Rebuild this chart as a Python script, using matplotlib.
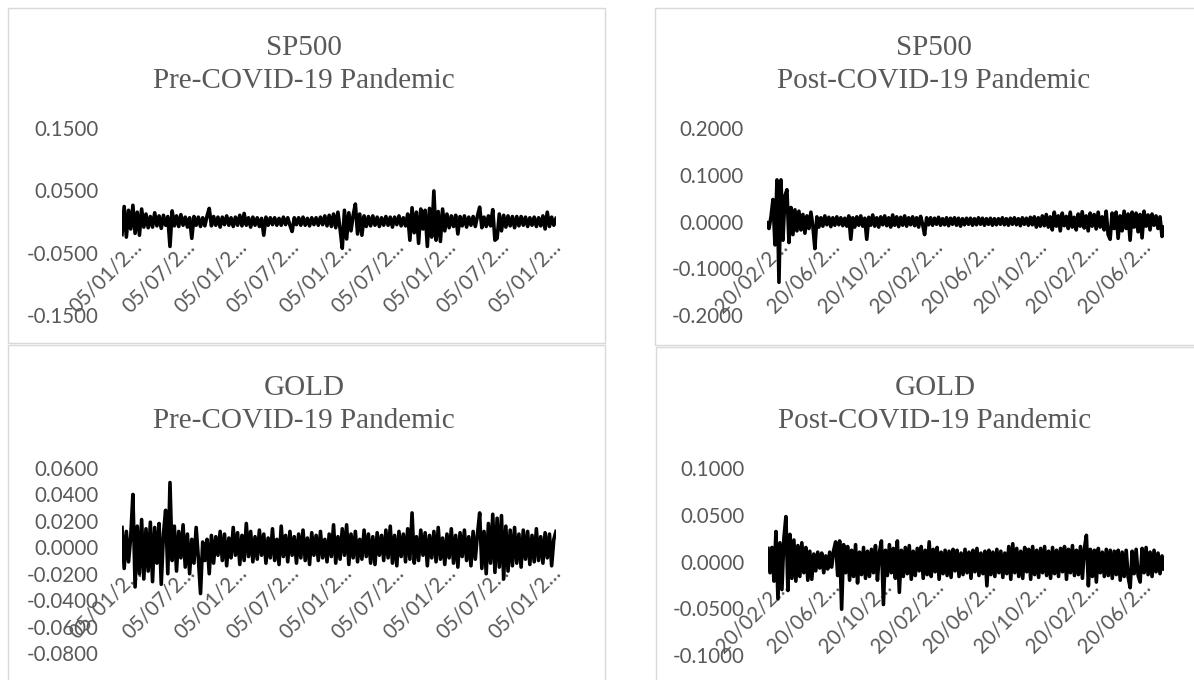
import matplotlib
matplotlib.use("Agg")
import matplotlib.pyplot as plt
import matplotlib.transforms as mtransforms
from matplotlib.patches import Rectangle

plt.rcParams["font.family"] = ["Lato", "DejaVu Sans"]

# ---------------- data ----------------
sp500_pre = [
    -0.021, 0.024, -0.025, 0.018, -0.012, 0.026, -0.019, 0.015, -0.022, 0.020,
    -0.009, 0.012, -0.010, 0.008, -0.009, 0.014, -0.007, 0.009, -0.011, 0.010,
    -0.006, 0.008, -0.040, 0.017, -0.007, 0.009, -0.008, 0.011, -0.006, 0.007,
    -0.009, 0.006, -0.027, 0.008, -0.006, 0.007, -0.008, 0.006, -0.007, 0.009,
    0.021, -0.007, 0.008, -0.006, 0.007, -0.009, 0.007, -0.005, 0.009, -0.006,
    0.006, -0.008, 0.007, -0.006, 0.010, -0.007, 0.013, -0.006, 0.006, -0.009,
    0.007, -0.006, 0.006, -0.008, 0.005, -0.022, 0.007, -0.006, 0.006, -0.005,
    0.006, -0.006, 0.005, -0.006, 0.007, -0.005, 0.006, -0.006, -0.016, 0.006,
    -0.005, 0.006, -0.006, 0.007, -0.006, 0.005, -0.007, 0.006, -0.005, 0.006,
    -0.006, 0.007, -0.005, 0.009, -0.007, 0.010, -0.008, 0.012, -0.010, 0.015,
    -0.012, -0.043, 0.018, -0.028, 0.014, -0.015, 0.010, 0.028, -0.020, 0.012,
    -0.022, 0.009, -0.008, 0.008, -0.007, 0.009, -0.006, 0.007, -0.008, 0.006,
    -0.006, 0.008, -0.006, 0.007, -0.009, 0.007, -0.005, 0.009, -0.007, 0.006,
    -0.007, 0.012, -0.030, 0.022, -0.018, 0.015, -0.035, 0.020, -0.012, 0.018,
    -0.040, 0.021, -0.025, 0.049, -0.030, 0.016, -0.032, 0.020, -0.015, 0.012,
    -0.010, 0.009, -0.008, 0.010, -0.020, 0.008, -0.007, 0.009, -0.009, 0.007,
    -0.006, 0.008, -0.008, 0.009, 0.023, -0.010, 0.007, -0.008, 0.009, -0.007,
    0.019, -0.030, -0.027, 0.012, -0.015, 0.010, -0.009, 0.009, -0.007, 0.008,
    -0.010, 0.008, -0.007, 0.008, -0.006, 0.007, -0.008, 0.006, -0.006, 0.007,
    -0.008, 0.006, -0.007, 0.009, -0.012, 0.015, -0.008, 0.007, -0.006, 0.005,
]

sp500_post = [
    -0.003, -0.015, 0.010, 0.047, -0.050, 0.089, -0.130, 0.089, -0.040, 0.055,
    0.068, -0.045, 0.030, -0.028, 0.025, -0.020, 0.022, -0.018, 0.015, -0.025,
    0.012, -0.015, 0.020, -0.010, -0.058, 0.010, -0.012, 0.008, -0.010, 0.012,
    -0.007, 0.009, -0.011, 0.008, -0.008, 0.010, -0.007, 0.008, -0.009, 0.007,
    -0.010, 0.012, -0.038, 0.008, -0.012, 0.010, -0.008, 0.012, -0.010, 0.007,
    -0.038, 0.009, -0.008, 0.014, -0.010, 0.008, -0.012, 0.010, -0.007, 0.012,
    -0.009, 0.008, -0.012, 0.014, -0.008, 0.010, -0.011, 0.009, -0.008, 0.012,
    -0.010, 0.008, -0.007, 0.010, -0.009, 0.008, -0.012, 0.011, -0.006, -0.028,
    0.008, -0.007, 0.008, -0.008, 0.007, -0.006, 0.009, -0.008, 0.006, -0.007,
    0.008, -0.009, 0.007, -0.006, 0.008, -0.008, 0.007, -0.010, 0.006, -0.007,
    0.007, -0.006, 0.007, -0.008, 0.006, -0.007, 0.008, -0.006, 0.007, -0.008,
    0.006, -0.006, 0.007, -0.008, 0.006, -0.007, 0.006, -0.006, 0.008, -0.007,
    0.006, -0.008, 0.007, -0.006, 0.008, -0.007, 0.006, -0.009, 0.008, -0.006,
    0.007, -0.008, 0.009, -0.007, 0.010, -0.012, 0.008, -0.010, 0.012, -0.009,
    0.015, -0.012, 0.010, -0.018, 0.020, -0.010, 0.012, -0.020, 0.018, -0.009,
    0.011, -0.015, 0.020, -0.012, 0.009, -0.018, 0.016, -0.010, 0.021, -0.014,
    0.012, -0.020, 0.018, -0.010, 0.015, -0.016, 0.020, -0.012, 0.010, -0.018,
    0.022, -0.028, -0.038, 0.018, -0.015, 0.020, -0.036, 0.012, -0.020, 0.022,
    -0.015, 0.016, -0.040, 0.020, -0.012, 0.018, -0.022, 0.015, -0.035, 0.022,
    -0.010, 0.014, -0.018, 0.016, -0.008, 0.012, -0.015, 0.010, -0.032, -0.012,
]

gold_pre = [
    0.015, -0.016, 0.012, -0.011, 0.008, 0.040, -0.030, 0.016, -0.020, 0.021,
    -0.024, 0.014, -0.018, 0.019, -0.026, 0.015, -0.012, 0.018, -0.028, 0.010,
    0.028, -0.020, 0.049, -0.010, 0.016, -0.018, 0.012, -0.008, 0.017, -0.015,
    0.010, -0.020, 0.006, -0.012, 0.015, -0.008, -0.035, 0.004, -0.010, 0.006,
    -0.020, 0.009, -0.012, 0.008, -0.006, 0.012, -0.010, 0.010, -0.014, 0.007,
    -0.008, 0.015, -0.006, 0.011, -0.013, 0.009, -0.010, 0.018, -0.007, 0.012,
    -0.011, 0.008, -0.009, 0.013, -0.006, 0.010, -0.012, 0.007, -0.008, 0.014,
    -0.010, 0.006, -0.013, 0.016, -0.007, 0.009, -0.011, 0.012, -0.006, 0.008,
    -0.012, 0.010, -0.008, 0.013, -0.010, 0.007, -0.013, 0.011, -0.006, 0.009,
    -0.010, 0.012, -0.008, 0.006, -0.011, 0.010, -0.007, 0.017, -0.012, 0.008,
    -0.009, 0.014, -0.006, 0.017, -0.013, 0.010, -0.008, 0.012, -0.011, 0.006,
    -0.009, 0.013, -0.007, 0.010, -0.012, 0.008, -0.013, 0.011, -0.006, 0.009,
    -0.010, 0.013, -0.008, 0.016, -0.012, 0.009, -0.014, 0.012, -0.007, 0.010,
    -0.011, 0.014, -0.009, 0.026, -0.012, 0.008, -0.010, 0.013, -0.006, 0.011,
    -0.014, 0.009, -0.008, 0.012, -0.011, 0.015, -0.009, 0.007, -0.013, 0.010,
    -0.008, 0.014, -0.012, 0.009, -0.015, 0.011, -0.007, 0.013, -0.010, 0.008,
    -0.014, 0.012, -0.009, 0.010, 0.026, -0.016, 0.012, -0.020, 0.018, -0.012,
    0.025, -0.019, 0.022, -0.015, 0.024, -0.024, 0.016, -0.018, 0.013, -0.014,
    0.015, -0.012, 0.010, -0.015, 0.013, -0.009, 0.012, -0.013, 0.009, -0.011,
    0.014, -0.010, 0.008, -0.012, 0.011, -0.008, 0.010, -0.014, 0.006, 0.012,
]

gold_post = [
    0.014, -0.012, 0.015, -0.021, 0.032, -0.040, 0.020, -0.030, 0.025, 0.048,
    -0.031, 0.029, -0.018, 0.023, -0.021, 0.017, -0.016, 0.020, -0.012, 0.015,
    -0.020, 0.011, -0.019, 0.008, -0.010, 0.010, -0.007, 0.009, -0.012, 0.006,
    -0.008, 0.010, -0.006, 0.012, 0.021, -0.015, 0.022, -0.051, 0.018, -0.012,
    0.016, -0.020, 0.012, -0.016, 0.018, -0.023, 0.010, -0.014, 0.015, -0.018,
    0.011, -0.016, 0.013, -0.012, 0.017, -0.020, 0.010, 0.022, -0.046, 0.012,
    -0.015, 0.018, -0.012, 0.014, -0.018, 0.022, -0.033, 0.012, -0.016, 0.015,
    -0.013, 0.017, -0.019, 0.011, -0.015, 0.014, -0.010, 0.016, -0.018, 0.012,
    -0.014, 0.021, -0.016, 0.013, -0.011, 0.015, -0.019, 0.010, -0.013, 0.012,
    -0.015, 0.011, -0.017, 0.013, -0.010, 0.012, -0.016, 0.009, -0.014, 0.013,
    -0.012, 0.010, -0.018, 0.012, -0.011, 0.014, -0.015, 0.009, -0.013, 0.011,
    -0.026, 0.012, -0.014, 0.010, -0.016, 0.013, -0.012, 0.011, -0.017, 0.009,
    -0.013, 0.016, -0.019, 0.019, -0.012, 0.014, -0.016, 0.011, -0.018, 0.015,
    -0.011, 0.013, -0.019, 0.016, -0.014, 0.012, -0.017, 0.014, -0.012, 0.016,
    -0.015, 0.011, -0.018, 0.015, -0.013, 0.012, -0.016, 0.014, -0.011, 0.016,
    -0.019, 0.013, -0.012, 0.017, -0.015, 0.012, -0.014, 0.016, -0.018, 0.014,
    0.028, -0.026, 0.013, -0.016, 0.012, -0.022, 0.014, -0.012, 0.010, -0.016,
    0.013, -0.015, 0.012, -0.018, 0.011, -0.014, 0.012, -0.020, 0.010, -0.016,
    0.012, -0.017, -0.028, 0.011, -0.013, 0.013, -0.015, -0.022, 0.014, -0.012,
    0.015, -0.014, 0.010, -0.016, 0.012, -0.011, 0.009, -0.013, 0.006, -0.008,
]

pre_labels = ["05/01/2…", "05/07/2…", "05/01/2…", "05/07/2…", "05/01/2…",
              "05/07/2…", "05/01/2…", "05/07/2…", "05/01/2…"]
post_labels = ["20/02/2…", "20/06/2…", "20/10/2…", "20/02/2…",
               "20/06/2…", "20/10/2…", "20/02/2…", "20/06/2…"]

sp500_pre_yticks = [-0.15, -0.05, 0.05, 0.15]
sp500_post_yticks = [-0.2, -0.1, 0.0, 0.1, 0.2]
gold_pre_yticks = [-0.08, -0.06, -0.04, -0.02, 0.0, 0.02, 0.04, 0.06]
gold_post_yticks = [-0.1, -0.05, 0.0, 0.05, 0.1]

titles = [("SP500", "Pre-COVID-19 Pandemic"), ("SP500", "Post-COVID-19 Pandemic"),
          ("GOLD", "Pre-COVID-19 Pandemic"), ("GOLD", "Post-COVID-19 Pandemic")]

# ---------------- layout ----------------
W, H = 1194, 680
fig = plt.figure(figsize=(W / 100, H / 100), dpi=100)
fig.patch.set_facecolor("white")

GRAY = "#595959"
BORDER = "#d9d9d9"


def px_axes(x0, x1, y0, y1):
    return fig.add_axes([x0 / W, 1 - y1 / H, (x1 - x0) / W, (y1 - y0) / H])


def border(x0, y0, x1, y1):
    fig.patches.append(Rectangle((x0 / W, 1 - y1 / H), (x1 - x0) / W, (y1 - y0) / H,
                                 transform=fig.transFigure, fill=False,
                                 edgecolor=BORDER, linewidth=1.0))


border(8, 8, 605, 343)
border(655, 8, 1232, 345)
border(8, 345, 605, 695)
border(656, 347, 1232, 695)

panels = [
    (sp500_pre, sp500_pre_yticks, pre_labels, 24, (122, 556, 128, 315), 304, (55, 88)),
    (sp500_post, sp500_post_yticks, post_labels, 26, (767, 1164, 128, 315), 934, (55, 88)),
    (gold_pre, gold_pre_yticks, pre_labels, 24, (122, 556, 468, 653), 304, (395, 428)),
    (gold_post, gold_post_yticks, post_labels, 26, (768, 1164, 468, 655), 935, (395, 428)),
]

for (vals, yt, xl, step, box, tcx, tby), (t1, t2) in zip(panels, titles):
    x0, x1, y0, y1 = box
    ax = px_axes(x0, x1, y0, y1)
    ax.set_facecolor("none")
    xs = list(range(len(vals)))
    ax.plot(xs, vals, color="black", linewidth=2.6, solid_joinstyle="round", zorder=3)
    ax.set_xlim(0, len(vals) - 1)
    ax.set_ylim(yt[0], yt[-1])
    for s in ("top", "right", "left"):
        ax.spines[s].set_visible(False)
    ax.spines["bottom"].set_position(("data", 0))
    ax.spines["bottom"].set_color("none")

    ax.set_yticks(yt)
    ax.set_yticklabels([f"{v:.4f}" for v in yt])
    ax.tick_params(axis="y", length=0, pad=17, labelsize=14.8, labelcolor=GRAY)

    xt = [i * step for i in range(len(xl))]
    ax.set_xticks(xt)
    ax.set_xticklabels(xl, rotation=45, ha="right", va="top", rotation_mode="anchor")
    ax.tick_params(axis="x", length=0, pad=11, labelsize=14.8, labelcolor=GRAY)
    off = mtransforms.ScaledTranslation(10 / 100, 0, fig.dpi_scale_trans)
    for lab in ax.get_xticklabels():
        lab.set_transform(lab.get_transform() + off)

    fig.text(tcx / W, 1 - tby[0] / H, t1, ha="center", va="baseline",
             fontfamily="Liberation Serif", fontsize=21, color=GRAY)
    fig.text(tcx / W, 1 - tby[1] / H, t2, ha="center", va="baseline",
             fontfamily="Liberation Serif", fontsize=21, color=GRAY)

fig.savefig("out.png", dpi=100, facecolor="white")
